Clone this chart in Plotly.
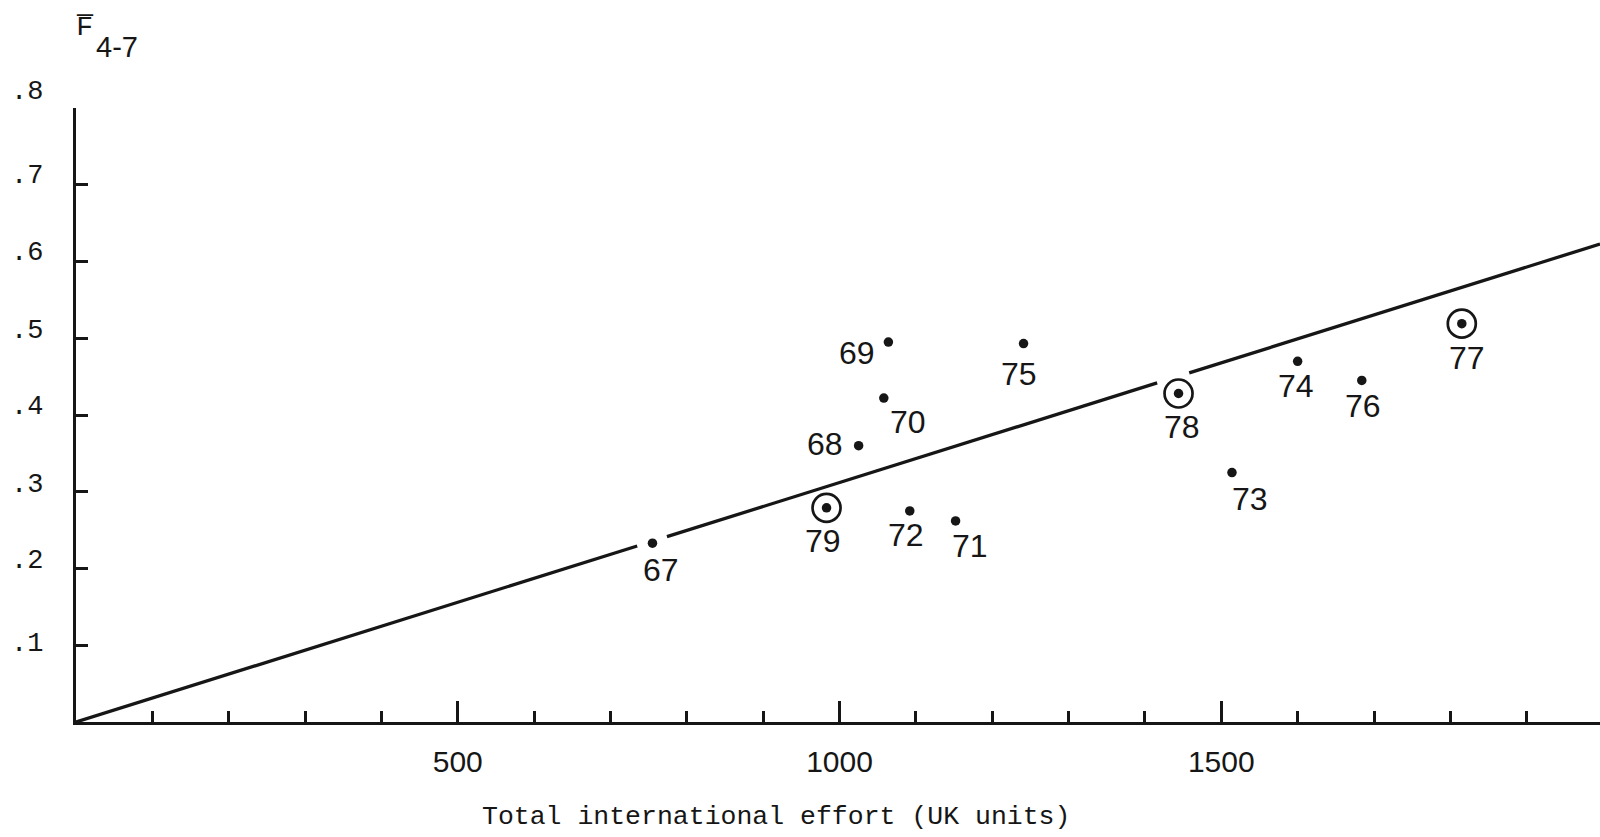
import plotly.graph_objects as go

# Season labels and the two measured quantities
years = ["67", "68", "69", "70", "71", "72", "73", "74", "75", "76", "77", "78", "79"]
effort = [755, 1025, 1064, 1058, 1152, 1092, 1514, 1600, 1241, 1684, 1815, 1444, 983]
f_mean = [0.233, 0.360, 0.495, 0.422, 0.262, 0.275, 0.325, 0.470, 0.493, 0.445, 0.519, 0.428, 0.279]
circled_years = ["77", "78", "79"]

# Fitted proportional relationship F = slope * effort
slope = 0.000312

# Axis ticks
x_tick_values = [500, 1000, 1500]
x_tick_labels = ["500", "1000", "1500"]
y_tick_values = [0.1, 0.2, 0.3, 0.4, 0.5, 0.6, 0.7, 0.8]
y_tick_labels = [".1", ".2", ".3", ".4", ".5", ".6", ".7", ".8"]

# ---- layout constants ----
W, H = 1600, 837
ML, MR, MT, MB = 76, 0, 108, 115
X_MAX = 1996
INK = "#161616"
MONO = "Liberation Mono, Courier New, monospace"
SANS = "Liberation Sans, Arial, sans-serif"

# pixel offsets (dx right, dy down) of each year label from its point
label_offsets = {
    "67": (9, 27), "68": (-34, -2), "69": (-31, 11), "70": (24, 24),
    "71": (14, 25), "72": (-4, 24), "73": (18, 26), "74": (-2, 25),
    "75": (-5, 30), "76": (1, 26), "77": (5, 34), "78": (3, 33), "79": (-4, 33),
}
# vertical lift (px) of each y tick label above its tick
y_label_lift = [1, 8, 7, 8, 7, 9, 9, 16]

# breaks in the fitted line where it passes the year markers
line_breaks = [(735, 774), (1416, 1458)]

fig = go.Figure()

# fitted line, drawn in pieces with breaks
seg_x, seg_y = [], []
start = 0
for a, b in line_breaks:
    seg_x += [start, a, None]
    seg_y += [slope * start, slope * a, None]
    start = b
seg_x += [start, X_MAX]
seg_y += [slope * start, slope * X_MAX]
fig.add_trace(go.Scatter(
    x=seg_x, y=seg_y, mode="lines",
    line=dict(color=INK, width=3.3), hoverinfo="skip", showlegend=False,
))

# open rings around the highlighted seasons
ring_x = [e for e, yr in zip(effort, years) if yr in circled_years]
ring_y = [f for f, yr in zip(f_mean, years) if yr in circled_years]
fig.add_trace(go.Scatter(
    x=ring_x, y=ring_y, mode="markers",
    marker=dict(symbol="circle-open", size=28, color=INK, line=dict(width=2.7, color=INK)),
    hoverinfo="skip", showlegend=False,
))

# all seasons as solid dots
fig.add_trace(go.Scatter(
    x=effort, y=f_mean, mode="markers",
    marker=dict(symbol="circle", size=9.5, color=INK),
    text=years, hovertemplate="%{text}: %{x}, %{y}<extra></extra>",
    showlegend=False,
))

annotations = []

# year labels beside the points
for yr, ex, fy in zip(years, effort, f_mean):
    dx, dy = label_offsets[yr]
    annotations.append(dict(
        x=ex, y=fy, xref="x", yref="y", text=yr, showarrow=False,
        xanchor="center", yanchor="middle", xshift=dx, yshift=-dy,
        font=dict(family=SANS, size=32, color=INK),
    ))

# y tick labels
for val, lab, lift in zip(y_tick_values, y_tick_labels, y_label_lift):
    annotations.append(dict(
        x=0, y=val, xref="paper", yref="y", text=lab, showarrow=False,
        xanchor="right", yanchor="middle", xshift=-31, yshift=lift,
        font=dict(family=MONO, size=27, color=INK),
    ))

plot_w = W - ML - MR
plot_h = H - MT - MB


def px_to_paper(px, py):
    return (px - ML) / plot_w, (H - MB - py) / plot_h


# y axis title: F-bar with subscript 4-7
fx, fy = px_to_paper(85, 28)
annotations.append(dict(
    x=fx, y=fy, xref="paper", yref="paper", text="F\u0305", showarrow=False,
    xanchor="center", yanchor="middle",
    font=dict(family=MONO, size=28, color=INK),
))
sx, sy = px_to_paper(117, 47)
annotations.append(dict(
    x=sx, y=sy, xref="paper", yref="paper", text="4-7", showarrow=False,
    xanchor="center", yanchor="middle",
    font=dict(family=SANS, size=29, color=INK),
))

# x axis title
tx, ty = px_to_paper(776, 817)
annotations.append(dict(
    x=tx, y=ty, xref="paper", yref="paper",
    text="Total international effort (UK units)", showarrow=False,
    xanchor="center", yanchor="middle",
    font=dict(family=MONO, size=26.5, color=INK),
))

fig.update_layout(
    width=W, height=H,
    margin=dict(l=ML, r=MR, t=MT, b=MB, pad=0),
    paper_bgcolor="white", plot_bgcolor="white",
    annotations=annotations,
    xaxis=dict(
        range=[0, X_MAX], showgrid=False, zeroline=False,
        showline=True, linewidth=3, linecolor=INK,
        tickmode="array", tickvals=x_tick_values, ticktext=x_tick_labels,
        ticks="inside", ticklen=21, tickwidth=3, tickcolor=INK,
        ticklabelstandoff=11,
        tickfont=dict(family=SANS, size=30, color=INK),
        minor=dict(tickmode="linear", tick0=0, dtick=100, ticks="inside",
                   ticklen=11, tickwidth=2.6, tickcolor=INK),
    ),
    yaxis=dict(
        range=[0, 0.8], showgrid=False, zeroline=False,
        showline=True, linewidth=3, linecolor=INK,
        tickmode="array", tickvals=y_tick_values,
        ticks="inside", ticklen=12, tickwidth=2.6, tickcolor=INK,
        showticklabels=False,
    ),
)

fig.write_html("out.html")
